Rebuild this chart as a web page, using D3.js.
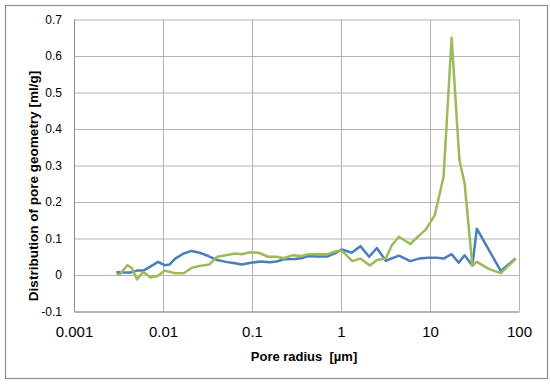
<!DOCTYPE html>
<html>
<head>
<meta charset="utf-8">
<script src="https://cdn.jsdelivr.net/npm/d3@7"></script>
<style>
  body { margin: 0; background: #fff; }
  svg { display: block; font-family: "Liberation Sans", Arial, sans-serif; }
</style>
</head>
<body>
<svg id="chart"></svg>
<script>
// pore radius [µm] and distribution [ml/g]
const blueR = [0.0030, 0.0035, 0.0043, 0.0051, 0.0060, 0.0072, 0.0088, 0.0104, 0.0119, 0.0137,
  0.0171, 0.0211, 0.0258, 0.0324, 0.0406, 0.0510, 0.0640, 0.0767, 0.1007, 0.1265,
  0.1585, 0.190, 0.228, 0.299, 0.359, 0.431, 0.540, 0.710, 0.851, 1.02,
  1.32, 1.65, 2.07, 2.53, 3.18, 4.48, 6.00, 7.52, 9.44, 11.8,
  14.2, 17.5, 21.0, 24.5, 29.9, 33.6, 62.4, 91.4];
const blueV = [0.008, 0.007, 0.007, 0.012, 0.012, 0.023, 0.036, 0.027, 0.029, 0.045,
  0.059, 0.066, 0.061, 0.052, 0.041, 0.036, 0.032, 0.029, 0.034, 0.037,
  0.035, 0.037, 0.043, 0.044, 0.046, 0.052, 0.051, 0.051, 0.059, 0.070,
  0.061, 0.079, 0.050, 0.074, 0.039, 0.053, 0.038, 0.045, 0.047, 0.047,
  0.045, 0.057, 0.034, 0.054, 0.026, 0.127, 0.011, 0.045];

const greenR = [0.0030, 0.0033, 0.0040, 0.0045, 0.0051, 0.0060, 0.0072, 0.0087, 0.0104, 0.0137,
  0.0171, 0.0211, 0.0258, 0.0333, 0.0406, 0.0510, 0.0640, 0.0767, 0.0937, 0.1186,
  0.1517, 0.190, 0.228, 0.286, 0.359, 0.431, 0.540, 0.710, 0.851, 1.02,
  1.34, 1.65, 2.11, 2.53, 3.18, 3.74, 4.48, 6.00, 7.52, 9.02,
  11.3, 14.2, 17.5, 21.4, 24.5, 29.9, 33.6, 46.2, 62.4, 91.4];
const greenV = [0.002, 0.003, 0.027, 0.018, -0.012, 0.009, -0.007, -0.003, 0.012, 0.005,
  0.005, 0.020, 0.025, 0.029, 0.050, 0.054, 0.059, 0.057, 0.062, 0.061,
  0.050, 0.050, 0.046, 0.054, 0.052, 0.057, 0.057, 0.057, 0.064, 0.067,
  0.038, 0.045, 0.026, 0.041, 0.045, 0.082, 0.105, 0.085, 0.108, 0.125,
  0.164, 0.269, 0.650, 0.315, 0.251, 0.025, 0.036, 0.016, 0.005, 0.044];

const xTicks = [0.001, 0.01, 0.1, 1, 10, 100];
const xTickLabels = ['0.001', '0.01', '0.1', '1', '10', '100'];
const yTicks = [-0.1, 0, 0.1, 0.2, 0.3, 0.4, 0.5, 0.6, 0.7];

const W = 550, H = 385;
const margin = { top: 19.5, right: 31, bottom: 73.5, left: 74 };
const width = W - margin.left - margin.right;
const height = H - margin.top - margin.bottom;

const svg = d3.select('#chart').attr('width', W).attr('height', H);

// outer frame
svg.append('rect')
  .attr('x', 5.5).attr('y', 5.5)
  .attr('width', 542).attr('height', 373)
  .attr('fill', '#fff').attr('stroke', '#8c8c8c').attr('stroke-width', 1.2);

const g = svg.append('g').attr('transform', `translate(${margin.left},${margin.top})`);

const x = d3.scaleLog().domain([0.001, 100]).range([0, width]);
const y = d3.scaleLinear().domain([-0.1, 0.7]).range([height, 0]);

// gridlines
g.append('g')
  .call(d3.axisLeft(y).tickValues(yTicks).tickSize(-width).tickFormat(''))
  .call(a => a.select('.domain').remove())
  .call(a => a.selectAll('line').attr('stroke', '#b3b3b3'));
g.append('g')
  .call(d3.axisBottom(x).tickValues(xTicks).tickSize(height).tickFormat(''))
  .call(a => a.select('.domain').remove())
  .call(a => a.selectAll('line').attr('stroke', '#b3b3b3'));

// axes
const yAxis = g.append('g')
  .call(d3.axisLeft(y).tickValues(yTicks).tickSize(0).tickPadding(12)
    .tickFormat(d => d3.format('.1f')(d).replace('0.0', '0').replace('−', '-')));
yAxis.select('.domain').attr('stroke', '#8c8c8c');
yAxis.selectAll('text').attr('font-size', 12).attr('fill', '#000')
  .attr('font-family', '"Liberation Sans", Arial, sans-serif');

const xAxis = g.append('g')
  .attr('transform', `translate(0,${height})`)
  .call(d3.axisBottom(x).tickValues(xTicks).tickSize(0).tickPadding(15)
    .tickFormat((d, i) => xTickLabels[i]));
xAxis.select('.domain').attr('stroke', '#8c8c8c');
xAxis.selectAll('text').attr('font-size', 15).attr('fill', '#000')
  .attr('font-family', '"Liberation Sans", Arial, sans-serif');

// series
const line = d3.line().x(d => x(d[0])).y(d => y(d[1]));
g.append('path')
  .datum(d3.zip(blueR, blueV))
  .attr('d', line)
  .attr('fill', 'none').attr('stroke', '#4a7ebb').attr('stroke-width', 2.5)
  .attr('stroke-linejoin', 'round');
g.append('path')
  .datum(d3.zip(greenR, greenV))
  .attr('d', line)
  .attr('fill', 'none').attr('stroke', '#9bbb59').attr('stroke-width', 2.5)
  .attr('stroke-linejoin', 'round');

// titles
svg.append('text')
  .attr('x', 304).attr('y', 361)
  .attr('text-anchor', 'middle')
  .attr('font-size', 13).attr('font-weight', 'bold')
  .attr('xml:space', 'preserve')
  .text('Pore radius  [µm]');

svg.append('text')
  .attr('transform', 'translate(38,186) rotate(-90)')
  .attr('text-anchor', 'middle')
  .attr('font-size', 13.5).attr('font-weight', 'bold')
  .text('Distribution of pore geometry [ml/g]');
</script>
</body>
</html>
